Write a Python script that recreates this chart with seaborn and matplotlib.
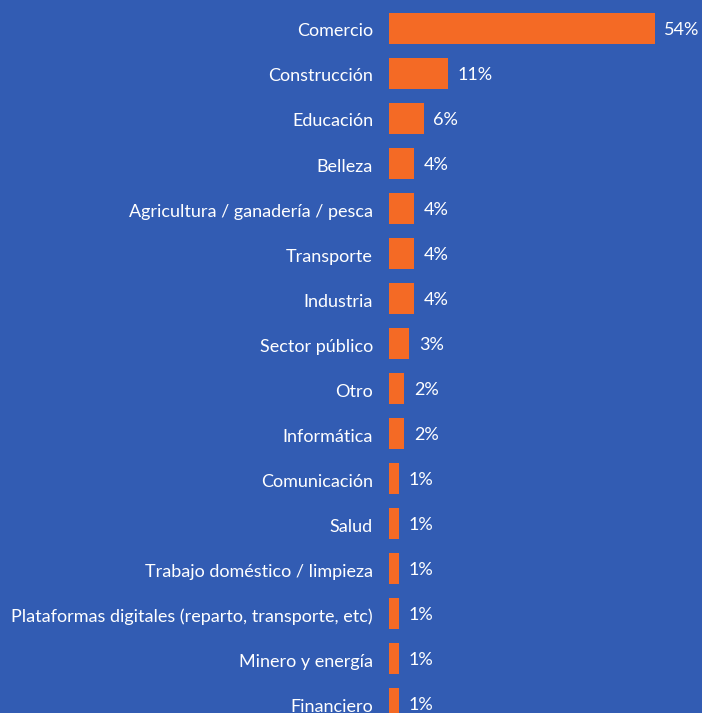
import matplotlib
matplotlib.use("Agg")
import matplotlib.pyplot as plt
import matplotlib.transforms as mtransforms
import seaborn as sns
import pandas as pd

sectors = [
    "Comercio", "Construcción", "Educación", "Belleza",
    "Agricultura / ganadería / pesca", "Transporte", "Industria",
    "Sector público", "Otro", "Informática", "Comunicación", "Salud",
    "Trabajo doméstico / limpieza",
    "Plataformas digitales (reparto, transporte, etc)",
    "Minero y energía", "Financiero",
]
# bar lengths
bar_length = [54.3, 12.0, 7.1, 5.1, 5.1, 5.1, 5.1, 4.1, 3.1, 3.1,
              2.0, 2.0, 2.0, 2.0, 2.0, 2.0]
# printed labels
share_labels = ["54%", "11%", "6%", "4%", "4%", "4%", "4%", "3%", "2%", "2%",
                "1%", "1%", "1%", "1%", "1%", "1%"]

BG = "#325CB3"
ORANGE = "#F46A25"

df = pd.DataFrame({"sector": sectors, "value": bar_length})

sns.set_theme(style="white")
plt.rcParams["font.family"] = ["Lato", "DejaVu Sans"]

fig = plt.figure(figsize=(7.02, 7.13), dpi=100, facecolor=BG)
ax = fig.add_axes([389 / 702, 0.0, 1 - 389 / 702, 707 / 713])
ax.set_facecolor(BG)

sns.barplot(data=df, x="value", y="sector", color=ORANGE, width=0.69,
            saturation=1, ax=ax, orient="h", linewidth=0, edgecolor=ORANGE)

texts = ax.bar_label(ax.containers[0], labels=share_labels, padding=8,
                     color="white", fontsize=13)
for t in texts:
    t.xyann = (7, -1.0)

ax.set_xlim(0, 64)
ax.set_ylim(15.2, -0.5)
ax.set_xlabel("")
ax.set_ylabel("")
ax.set_xticks([])
ax.tick_params(axis="y", length=0, pad=11.5, labelsize=13, labelcolor="white")
shift = mtransforms.ScaledTranslation(0, -1.0 / 72, fig.dpi_scale_trans)
for lab in ax.get_yticklabels():
    lab.set_transform(lab.get_transform() + shift)
for s in ax.spines.values():
    s.set_visible(False)

fig.savefig("out.png", dpi=100, facecolor=BG)
